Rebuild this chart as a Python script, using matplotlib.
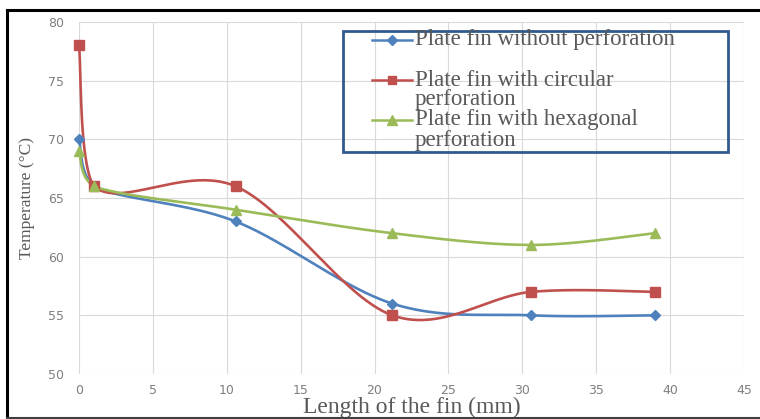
import numpy as np
import matplotlib
matplotlib.use("Agg")
import matplotlib.pyplot as plt
from matplotlib.lines import Line2D
from matplotlib.patches import Rectangle

# Fin temperature profiles
x_pos = [0, 1, 10.6, 21.2, 30.6, 39]
t_plain = [70, 66, 63, 56, 55, 55]
t_circular = [78, 66, 66, 55, 57, 57]
t_hexagonal = [69, 66, 64, 62, 61, 62]

series_labels = [
    ["Plate fin without perforation"],
    ["Plate fin with circular", "perforation"],
    ["Plate fin with hexagonal", "perforation"],
]
x_ticks = [0, 5, 10, 15, 20, 25, 30, 35, 40, 45]
y_ticks = [50, 55, 60, 65, 70, 75, 80]

W, H = 760, 419
fig = plt.figure(figsize=(W / 100, H / 100), dpi=100)
fig.patch.set_facecolor("white")


def fx(px):
    return px / W


def fy(py):
    return 1 - py / H


ax = fig.add_axes([fx(79), fy(374), fx(744) - fx(79), fy(22) - fy(374)])
ax.set_xlim(0, 45)
ax.set_ylim(50, 80)
ax.set_xticks(x_ticks)
ax.set_yticks(y_ticks)
for s in ax.spines.values():
    s.set_visible(False)
ax.grid(True, color="#D9D9D9", linewidth=0.8)
ax.set_axisbelow(True)
ax.tick_params(length=0, colors="#7F7F7F", labelsize=9)
ax.tick_params(axis="y", pad=11)
ax.tick_params(axis="x", pad=7)

ax.set_xlabel("Length of the fin (mm)", family="Liberation Serif", fontsize=17,
              color="#595959", va="baseline")
ax.xaxis.set_label_coords(0.5, -(413 - 374) / 352)
ax.set_ylabel("Temperature (°C)", family="Liberation Serif", fontsize=12.5,
              color="#595959", va="center", ha="center")
ax.yaxis.set_label_coords(-(79 - 27) / 665, 0.5)


def smooth(xd, yd):
    """Smoothed curve through the points, built from cubic Bezier segments in screen space.
    Control points are kept within each segment's x range so the curve never runs backwards."""
    pts = ax.transData.transform(np.column_stack([xd, yd]))
    n = len(pts)
    t = np.linspace(0, 1, 60)[:, None]
    parts = []
    for i in range(n - 1):
        p0, p3 = pts[i], pts[i + 1]
        pm = pts[i - 1] if i > 0 else pts[i]
        pp = pts[i + 2] if i + 2 < n else pts[i + 1]
        c1 = p0 + (p3 - pm) / 6
        c2 = p3 - (pp - p0) / 6
        lo, hi = min(p0[0], p3[0]), max(p0[0], p3[0])
        c1[0] = np.clip(c1[0], lo, hi)
        c2[0] = np.clip(c2[0], lo, hi)
        seg = (1 - t) ** 3 * p0 + 3 * (1 - t) ** 2 * t * c1 + 3 * (1 - t) * t ** 2 * c2 + t ** 3 * p3
        parts.append(seg if i == 0 else seg[1:])
    curve = ax.transData.inverted().transform(np.vstack(parts))
    return curve[:, 0], curve[:, 1]


styles = [
    (t_plain, "#4F81BD", "D", 5.5),
    (t_circular, "#C0504D", "s", 7),
    (t_hexagonal, "#9BBB59", "^", 7.5),
]
for yd, col, mk, ms in styles:
    cx, cy = smooth(x_pos, yd)
    ax.plot(cx, cy, color=col, linewidth=1.9, solid_capstyle="round", zorder=3,
            clip_on=False)
    ax.plot(x_pos, yd, linestyle="none", marker=mk, markersize=ms,
            color=col, markeredgecolor=col, zorder=4, clip_on=False)

# Legend box drawn over the plot area
fig.add_artist(Rectangle((fx(343), fy(152)), fx(728) - fx(343), fy(31) - fy(152),
                         transform=fig.transFigure, fill=False,
                         edgecolor="#2F5A8C", linewidth=2.0, zorder=5))
entry_y = [40, 80, 120]
for (yd, col, mk, ms), lines, ey in zip(styles, series_labels, entry_y):
    fig.add_artist(Line2D([fx(372), fx(412)], [fy(ey), fy(ey)], color=col,
                          linewidth=1.8, transform=fig.transFigure, zorder=6))
    fig.add_artist(Line2D([fx(392)], [fy(ey)], marker=mk, markersize=ms * 0.9,
                          color=col, linestyle="none", transform=fig.transFigure, zorder=7))
    for k, txt in enumerate(lines):
        fig.text(fx(415), fy(ey + 20 * k), txt, family="Liberation Serif", fontsize=16.5,
                 color="#595959", ha="left", va="center", zorder=6)

# Outer frame
fig.add_artist(Line2D([fx(7), fx(7)], [fy(10), fy(418)], color="black",
                      linewidth=2.2, transform=fig.transFigure))
fig.add_artist(Line2D([fx(7), fx(760)], [fy(10), fy(10)], color="black",
                      linewidth=2.2, transform=fig.transFigure))
fig.add_artist(Line2D([fx(7), fx(760)], [fy(418), fy(418)], color="#404040",
                      linewidth=1.5, transform=fig.transFigure))

fig.savefig("out.png", dpi=100, facecolor="white")
